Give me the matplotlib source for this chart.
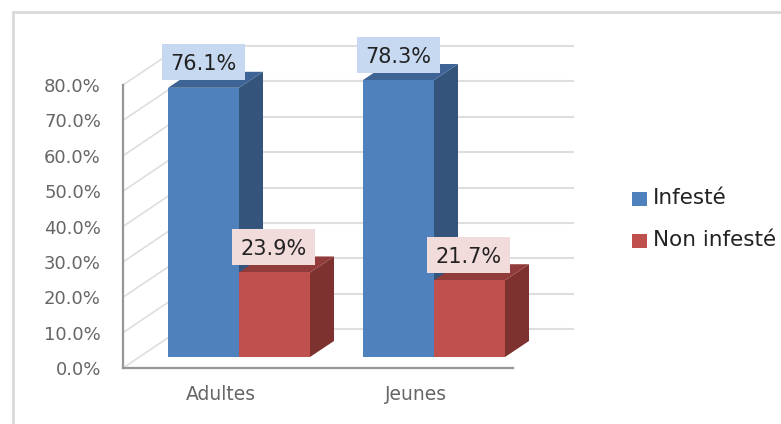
from matplotlib import pyplot as plt
from matplotlib.patches import Polygon, Rectangle
from matplotlib.lines import Line2D

plt.rcParams['font.family'] = ['DejaVu Sans']

#chart values
categories = ['Adultes', 'Jeunes']
series_names = ['Infesté', 'Non infesté']
infeste = [76.1, 78.3]
non_infeste = [23.9, 21.7]
y_ticks = [0, 10, 20, 30, 40, 50, 60, 70, 80]

#colours
blue, blue_side, blue_top = '#4f81bd', '#34547c', '#3d6494'
red, red_side, red_top = '#c0504d', '#7e3230', '#913c3a'
blue_box, red_box = '#c6d9f1', '#f2dcdb'
grid_col, axis_col, text_col = '#dedede', '#969696', '#666666'

W, H = 781, 424
fig = plt.figure(figsize=(W/100, H/100), dpi=100)

#outer chart border, in figure pixels
for xs, ys in [((12.5, 781), (H-11.5, H-11.5)), ((12.5, 12.5), (H-11.5, 0))]:
    fig.add_artist(Line2D([x/W for x in xs], [y/H for y in ys], color='#dadada', lw=2))

#axes = front plane of the fake 3d box
ax = fig.add_axes([123/W, (H-368)/H, 390/W, 283/H])
ax.set_xlim(0, 2)
ax.set_ylim(0, 80)
ax.axis('off')

PX_X = 2/390   #data units per pixel
PX_Y = 80/283

back_dx, back_dy = 58*PX_X, 39*PX_Y       #wall offset
floor_dx, floor_dy = 18.5*PX_X, 11*PX_Y   #where the bars stand
depth_dx, depth_dy = 24*PX_X, 16*PX_Y     #bar depth
bar_w = 71*PX_X

#back wall grid + left wall diagonals
for t in y_ticks:
    ax.plot([back_dx, 2+back_dx+2*PX_X], [t+back_dy, t+back_dy], color=grid_col, lw=1.5, clip_on=False, zorder=1)
    ax.plot([0, back_dx], [t, t+back_dy], color=grid_col, lw=1.2, clip_on=False, zorder=1)
    ax.text(-22*PX_X, t, '%.1f%%' % t, ha='right', va='center_baseline', color=text_col, fontsize=13)

#axis lines
ax.plot([0, 0], [0, 80], color=axis_col, lw=1.6, clip_on=False, zorder=2)
ax.plot([0, 2], [0, 0], color=axis_col, lw=1.6, clip_on=False, zorder=2)


def draw_bar(x, val, front, side, top, z):
    y0 = floor_dy
    y1 = floor_dy + val
    ax.bar(x, val, bar_w, bottom=y0, align='edge', color=front, zorder=z+1, clip_on=False)
    ax.add_patch(Polygon([(x+bar_w, y0), (x+bar_w+depth_dx, y0+depth_dy),
                          (x+bar_w+depth_dx, y1+depth_dy), (x+bar_w, y1)],
                         color=side, lw=0, zorder=z, clip_on=False))
    ax.add_patch(Polygon([(x, y1), (x+depth_dx, y1+depth_dy),
                          (x+bar_w+depth_dx, y1+depth_dy), (x+bar_w, y1)],
                         color=top, lw=0, zorder=z, clip_on=False))


def draw_label(x, val, colour, z):
    #x = left edge of the box, box floats a bit over the bar top
    w, h = 83*PX_X, 36*PX_Y
    y = floor_dy + val + 7.5*PX_Y
    ax.add_patch(Rectangle((x, y), w, h, color=colour, lw=0, zorder=z, clip_on=False))
    ax.text(x+w/2, y+h/2, '%.1f%%' % val, ha='center', va='center_baseline', color='#222222',
            fontsize=15, zorder=z+1)


for i in range(len(categories)):
    mid = i + 0.5 + floor_dx
    draw_bar(mid-bar_w, infeste[i], blue, blue_side, blue_top, 3)
    draw_bar(mid, non_infeste[i], red, red_side, red_top, 5)
    ax.text(i + 0.5, -7.4, categories[i], ha='center', va='center', color=text_col, fontsize=13.5)

for i in range(len(categories)):
    mid = i + 0.5 + floor_dx
    draw_label(mid-bar_w-6*PX_X, infeste[i], blue_box, 8)
    draw_label(mid-7*PX_X, non_infeste[i], red_box, 8)

#legend drawn by hand so it sits at the right spot
for name, col, py in zip(series_names, [blue, red], [199, 241]):
    fig.add_artist(Rectangle((632/W, (H-py-7)/H), 15/W, 14/H, color=col, lw=0))
    fig.text(653/W, (H-py+1)/H, name, ha='left', va='center', color='#222222', fontsize=15.5)

fig.savefig('out.png', dpi=100)
